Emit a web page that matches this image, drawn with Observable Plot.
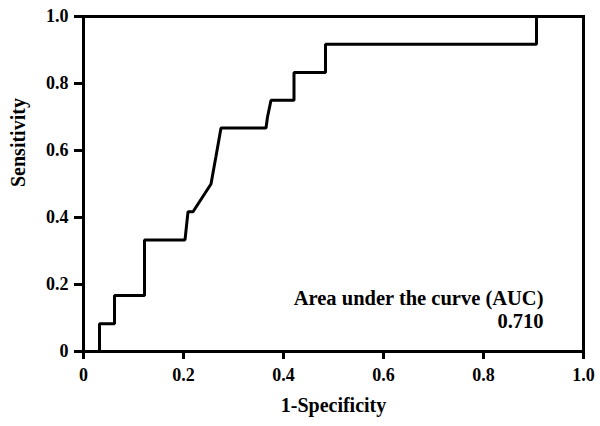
<!DOCTYPE html>
<html>
<head>
<meta charset="utf-8">
<script src="https://cdn.jsdelivr.net/npm/d3@7"></script>
<script src="https://cdn.jsdelivr.net/npm/@observablehq/plot@0.6"></script>
<style>
  html, body { margin: 0; padding: 0; background: #fff; }
  #chart svg { display: block; }
</style>
</head>
<body>
<div id="chart"></div>
<script>
// ROC curve vertices (1-Specificity, Sensitivity)
const fpr = [0, 0.032, 0.032, 0.062, 0.062, 0.122, 0.122, 0.203, 0.209, 0.219, 0.255, 0.261, 0.265, 0.275, 0.365, 0.368, 0.375, 0.421, 0.421, 0.484, 0.484, 0.906, 0.906, 1.0];
const tpr = [0, 0, 0.083, 0.083, 0.167, 0.167, 0.333, 0.333, 0.417, 0.417, 0.5, 0.55, 0.583, 0.667, 0.667, 0.7, 0.75, 0.75, 0.833, 0.833, 0.917, 0.917, 1.0, 1.0];
const xTicks = [0, 0.2, 0.4, 0.6, 0.8, 1.0];
const yTicks = [0, 0.2, 0.4, 0.6, 0.8, 1.0];
const xLabel = "1-Specificity";
const yLabel = "Sensitivity";
const aucLabel = "Area under the curve (AUC)";
const aucValue = "0.710";

const pts = fpr.map((x, i) => ({x, y: tpr[i]}));
const fmt = d => d === 0 ? "0" : d.toFixed(1);
const FONT = "'Liberation Serif', 'Times New Roman', serif";

const chart = Plot.plot({
  width: 600,
  height: 426,
  marginLeft: 83,
  marginRight: 17,
  marginTop: 16,
  marginBottom: 75,
  style: {fontFamily: FONT, fontSize: "18px", fontWeight: "bold", color: "#000", background: "#fff"},
  x: {domain: [0, 1]},
  y: {domain: [0, 1]},
  marks: [
    Plot.frame({stroke: "#000", strokeWidth: 3}),
    Plot.axisX({ticks: xTicks, tickFormat: fmt, tickSize: 8, tickPadding: 9, strokeWidth: 3,
      fontSize: 18, fontWeight: "bold", label: null}),
    Plot.axisY({ticks: yTicks, tickFormat: fmt, tickSize: 9, tickPadding: 6, strokeWidth: 3,
      fontSize: 18, fontWeight: "bold", label: null}),
    Plot.text([xLabel], {frameAnchor: "bottom", dy: 60, fontSize: 20, fontWeight: "bold", fill: "#000"}),
    Plot.text([yLabel], {frameAnchor: "left", dx: -65, dy: 3, rotate: -90, fontSize: 20, fontWeight: "bold", fill: "#000"}),
    Plot.line(pts, {x: "x", y: "y", stroke: "#000", strokeWidth: 3, strokeLinejoin: "miter"}),
    Plot.text([aucLabel], {frameAnchor: "bottom-right", dx: -40, dy: -47, textAnchor: "end", fontSize: 20.5, fontWeight: "bold", fill: "#000"}),
    Plot.text([aucValue], {frameAnchor: "bottom-right", dx: -40, dy: -24, textAnchor: "end", fontSize: 20.5, fontWeight: "bold", fill: "#000"})
  ]
});
document.getElementById("chart").appendChild(chart);
</script>
</body>
</html>
